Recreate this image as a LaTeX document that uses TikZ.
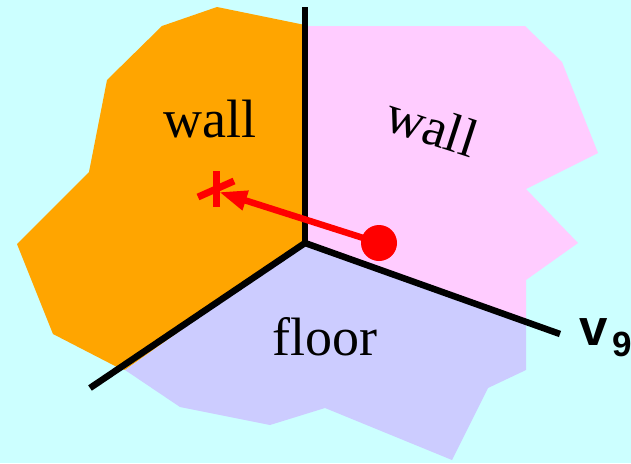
\documentclass[tikz,border=0pt]{standalone}
\usepackage{fontspec}
\setmainfont{Liberation Serif}
\setsansfont{Liberation Sans}
\usetikzlibrary{arrows.meta,calc}
\definecolor{bgcyan}{HTML}{CCFFFF}
\definecolor{wallorange}{HTML}{FFA500}
\definecolor{wallpink}{HTML}{FFCCFF}
\definecolor{floorblue}{HTML}{CCCCFF}
\tikzset{
  edgeline/.style={line width=6.5pt},
  facelabel/.style={font=\fontsize{54}{60}\selectfont,inner sep=0pt}
}

\begin{document}
\begin{tikzpicture}[x=1pt,y=-1pt,>=Stealth]
 \useasboundingbox (0,0) rectangle (631,463);
 \fill[bgcyan] (0,0) rectangle (631,463);
 \coordinate (c) at (305,243);
 \coordinate (top) at (305,7);
 \coordinate (left) at (90,388);
 \coordinate (right) at (560,334);
 % faces
 \fill[wallorange] (217,7)--(305,25)--(c)--(125,370)--(117,367)--(53,334)--(17,244)--(89,172)--(107,80)--(162,26)--cycle;
 \fill[wallpink] (305,26)--(525,26)--(562,62)--(598,153)--(526,189)--(578,243)--(526,280)--(526,321)--(c)--cycle;
 \fill[floorblue] (c)--(526,321)--(526,370)--(488,388)--(452,460)--(325,408)--(270,425)--(180,407)--(125,370)--cycle;
 % edges
 \draw[edgeline] (top)--(c);
 \draw[edgeline] (c)--(left);
 \draw[edgeline] (c)--(right);
 \node[anchor=base west,inner sep=0pt,font=\sffamily\bfseries\fontsize{51}{52}\selectfont] (v9) at (579,345) {v\hspace{5pt}\raisebox{-11pt}{\fontsize{35}{36}\selectfont 9}};
 % labels
 \node[facelabel,anchor=base] (wallL) at (210,137) {wall};
 \node[facelabel,rotate=-18] (wallR) at (432,126) {wall};
 \node[facelabel,anchor=base] (floor) at (325,355) {floor};
 % move
 \coordinate (star) at (216,189);
 \draw[red,line width=7pt] ($(star)+(0,-18)$)--($(star)+(0,18)$);
 \draw[red,line width=7pt] ($(star)+(-18,8)$)--($(star)+(18,-8)$);
 \node[circle,fill=red,minimum size=36pt,inner sep=0pt] (dot) at (379,243) {};
 \draw[red,line width=6.5pt,-{Triangle[length=28pt,width=19pt]}] (dot.center)--($(star)+(3,3)$);
\end{tikzpicture}
\end{document}
